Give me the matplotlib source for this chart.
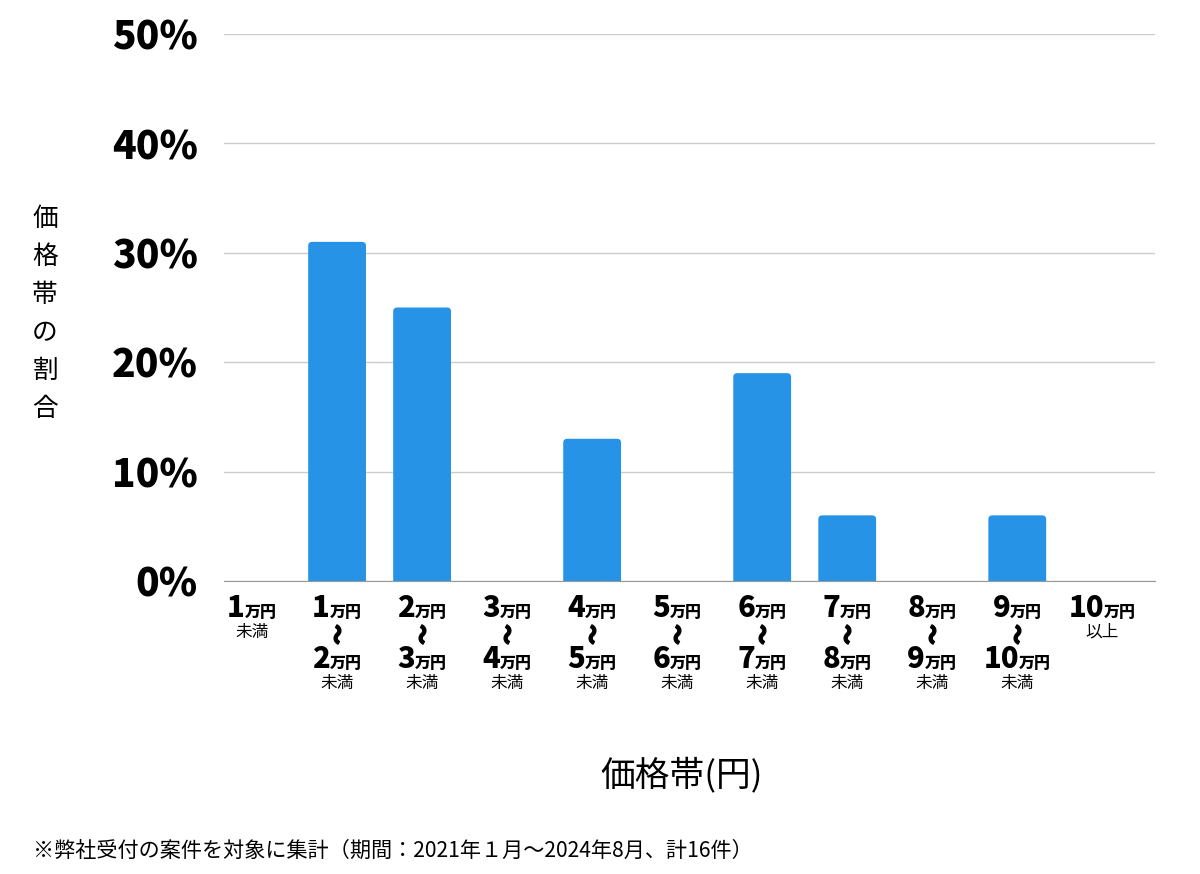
import matplotlib
matplotlib.use("Agg")
import matplotlib.pyplot as plt
from matplotlib.offsetbox import TextArea, HPacker, AnnotationBbox
from matplotlib.patches import FancyBboxPatch
from matplotlib.textpath import TextPath
from matplotlib.font_manager import FontProperties
from matplotlib.transforms import Affine2D

plt.rcParams['font.family'] = ['Noto Sans CJK JP', 'DejaVu Sans']

# ── data ──
lower_yen = ["1", "1", "2", "3", "4", "5", "6", "7", "8", "9", "10"]
upper_yen = [None, "2", "3", "4", "5", "6", "7", "8", "9", "10", None]
suffix = ["未満", "未満", "未満", "未満", "未満", "未満", "未満", "未満", "未満", "未満", "以上"]
share_pct = [0, 31, 25, 0, 13, 0, 19, 6, 0, 6, 0]
yticks = [0, 10, 20, 30, 40, 50]

BAR = "#2693E6"
W, H = 1200, 874

fig = plt.figure(figsize=(W / 100, H / 100), dpi=100)
ax = fig.add_axes([224 / W, (H - 581) / H, (1155 - 224) / W, (581 - 34) / H])

x = list(range(len(share_pct)))
ax.set_xlim(-0.33, 10.62)
ax.set_ylim(0, 50)

# bars with slightly rounded tops (bottom rounding is clipped at y=0)
bw = 0.68
px_x = (1155 - 224) / (10.62 + 0.33)
px_y = (581 - 34) / 50
r = 4 / px_x
for xi, v in zip(x, share_pct):
    if v <= 0:
        continue
    ax.add_patch(FancyBboxPatch((xi - bw / 2, -2), bw, v + 2,
                                boxstyle=f"round,pad=0,rounding_size={r}",
                                mutation_aspect=px_x / px_y,
                                fc=BAR, ec="none", zorder=3))

ax.set_yticks(yticks)
ax.set_yticklabels([f"{t}%" for t in yticks], fontsize=28, fontweight="heavy")
ax.yaxis.grid(True, color="#cccccc", lw=1)
ax.set_axisbelow(True)
ax.tick_params(axis="y", length=0, pad=19)
ax.set_xticks([])
for s in ["top", "right", "left"]:
    ax.spines[s].set_visible(False)
ax.spines["bottom"].set_color("#999999")
ax.spines["bottom"].set_zorder(4)

# ── category labels (number + 万円 / wave / number + 万円 / 未満) ──
def yen_row(num):
    return HPacker(children=[
        TextArea(num, textprops=dict(fontsize=21, fontweight="heavy")),
        TextArea("万円", textprops=dict(fontsize=11.5, fontweight="heavy")),
    ], align="baseline", pad=0, sep=0)

def place(box, xi, dy):
    ab = AnnotationBbox(box, (xi, 0), xycoords=ax.get_xaxis_transform(),
                        xybox=(0, -dy), boxcoords="offset points",
                        box_alignment=(0.5, 0.5), frameon=False, pad=0,
                        annotation_clip=False)
    ax.add_artist(ab)

# vertical wave dash (〜 turned upright, as in vertical writing)
wave = TextPath((0, 0), "〜", size=1,
                prop=FontProperties(family="Noto Sans CJK JP", weight="heavy"))
ext = wave.get_extents()
wave = wave.transformed(Affine2D()
                        .translate(-(ext.x0 + ext.x1) / 2, -(ext.y0 + ext.y1) / 2)
                        .rotate_deg(-90))

range_x = [xi for xi in x if upper_yen[xi] is not None]
ax.plot(range_x, [-(634 - 581) / (581 - 34)] * len(range_x), ls="none",
        marker=wave, ms=15, color="black", mec="black", mew=0.9,
        transform=ax.get_xaxis_transform(), clip_on=False)

for xi in x:
    place(yen_row(lower_yen[xi]), xi, 19.5)
    if upper_yen[xi] is None:
        place(TextArea(suffix[xi], textprops=dict(fontsize=12)), xi, 37)
    else:
        place(yen_row(upper_yen[xi]), xi, 56.5)
        place(TextArea(suffix[xi], textprops=dict(fontsize=12)), xi, 73.5)

# ── axis titles and footnote ──
fig.text(45 / W, 1 - 314 / H, "\n".join("価格帯の割合"), fontsize=18.5,
         ha="center", va="center", linespacing=1.6)
fig.text(682 / W, 1 - 775 / H, "価格帯(円)", fontsize=25, ha="center", va="center")
fig.text(33 / W, 1 - 851 / H,
         "※弊社受付の案件を対象に集計（期間：2021年１月～2024年8月、計16件）",
         fontsize=15.2, ha="left", va="center")

fig.savefig("out.png", dpi=100)
